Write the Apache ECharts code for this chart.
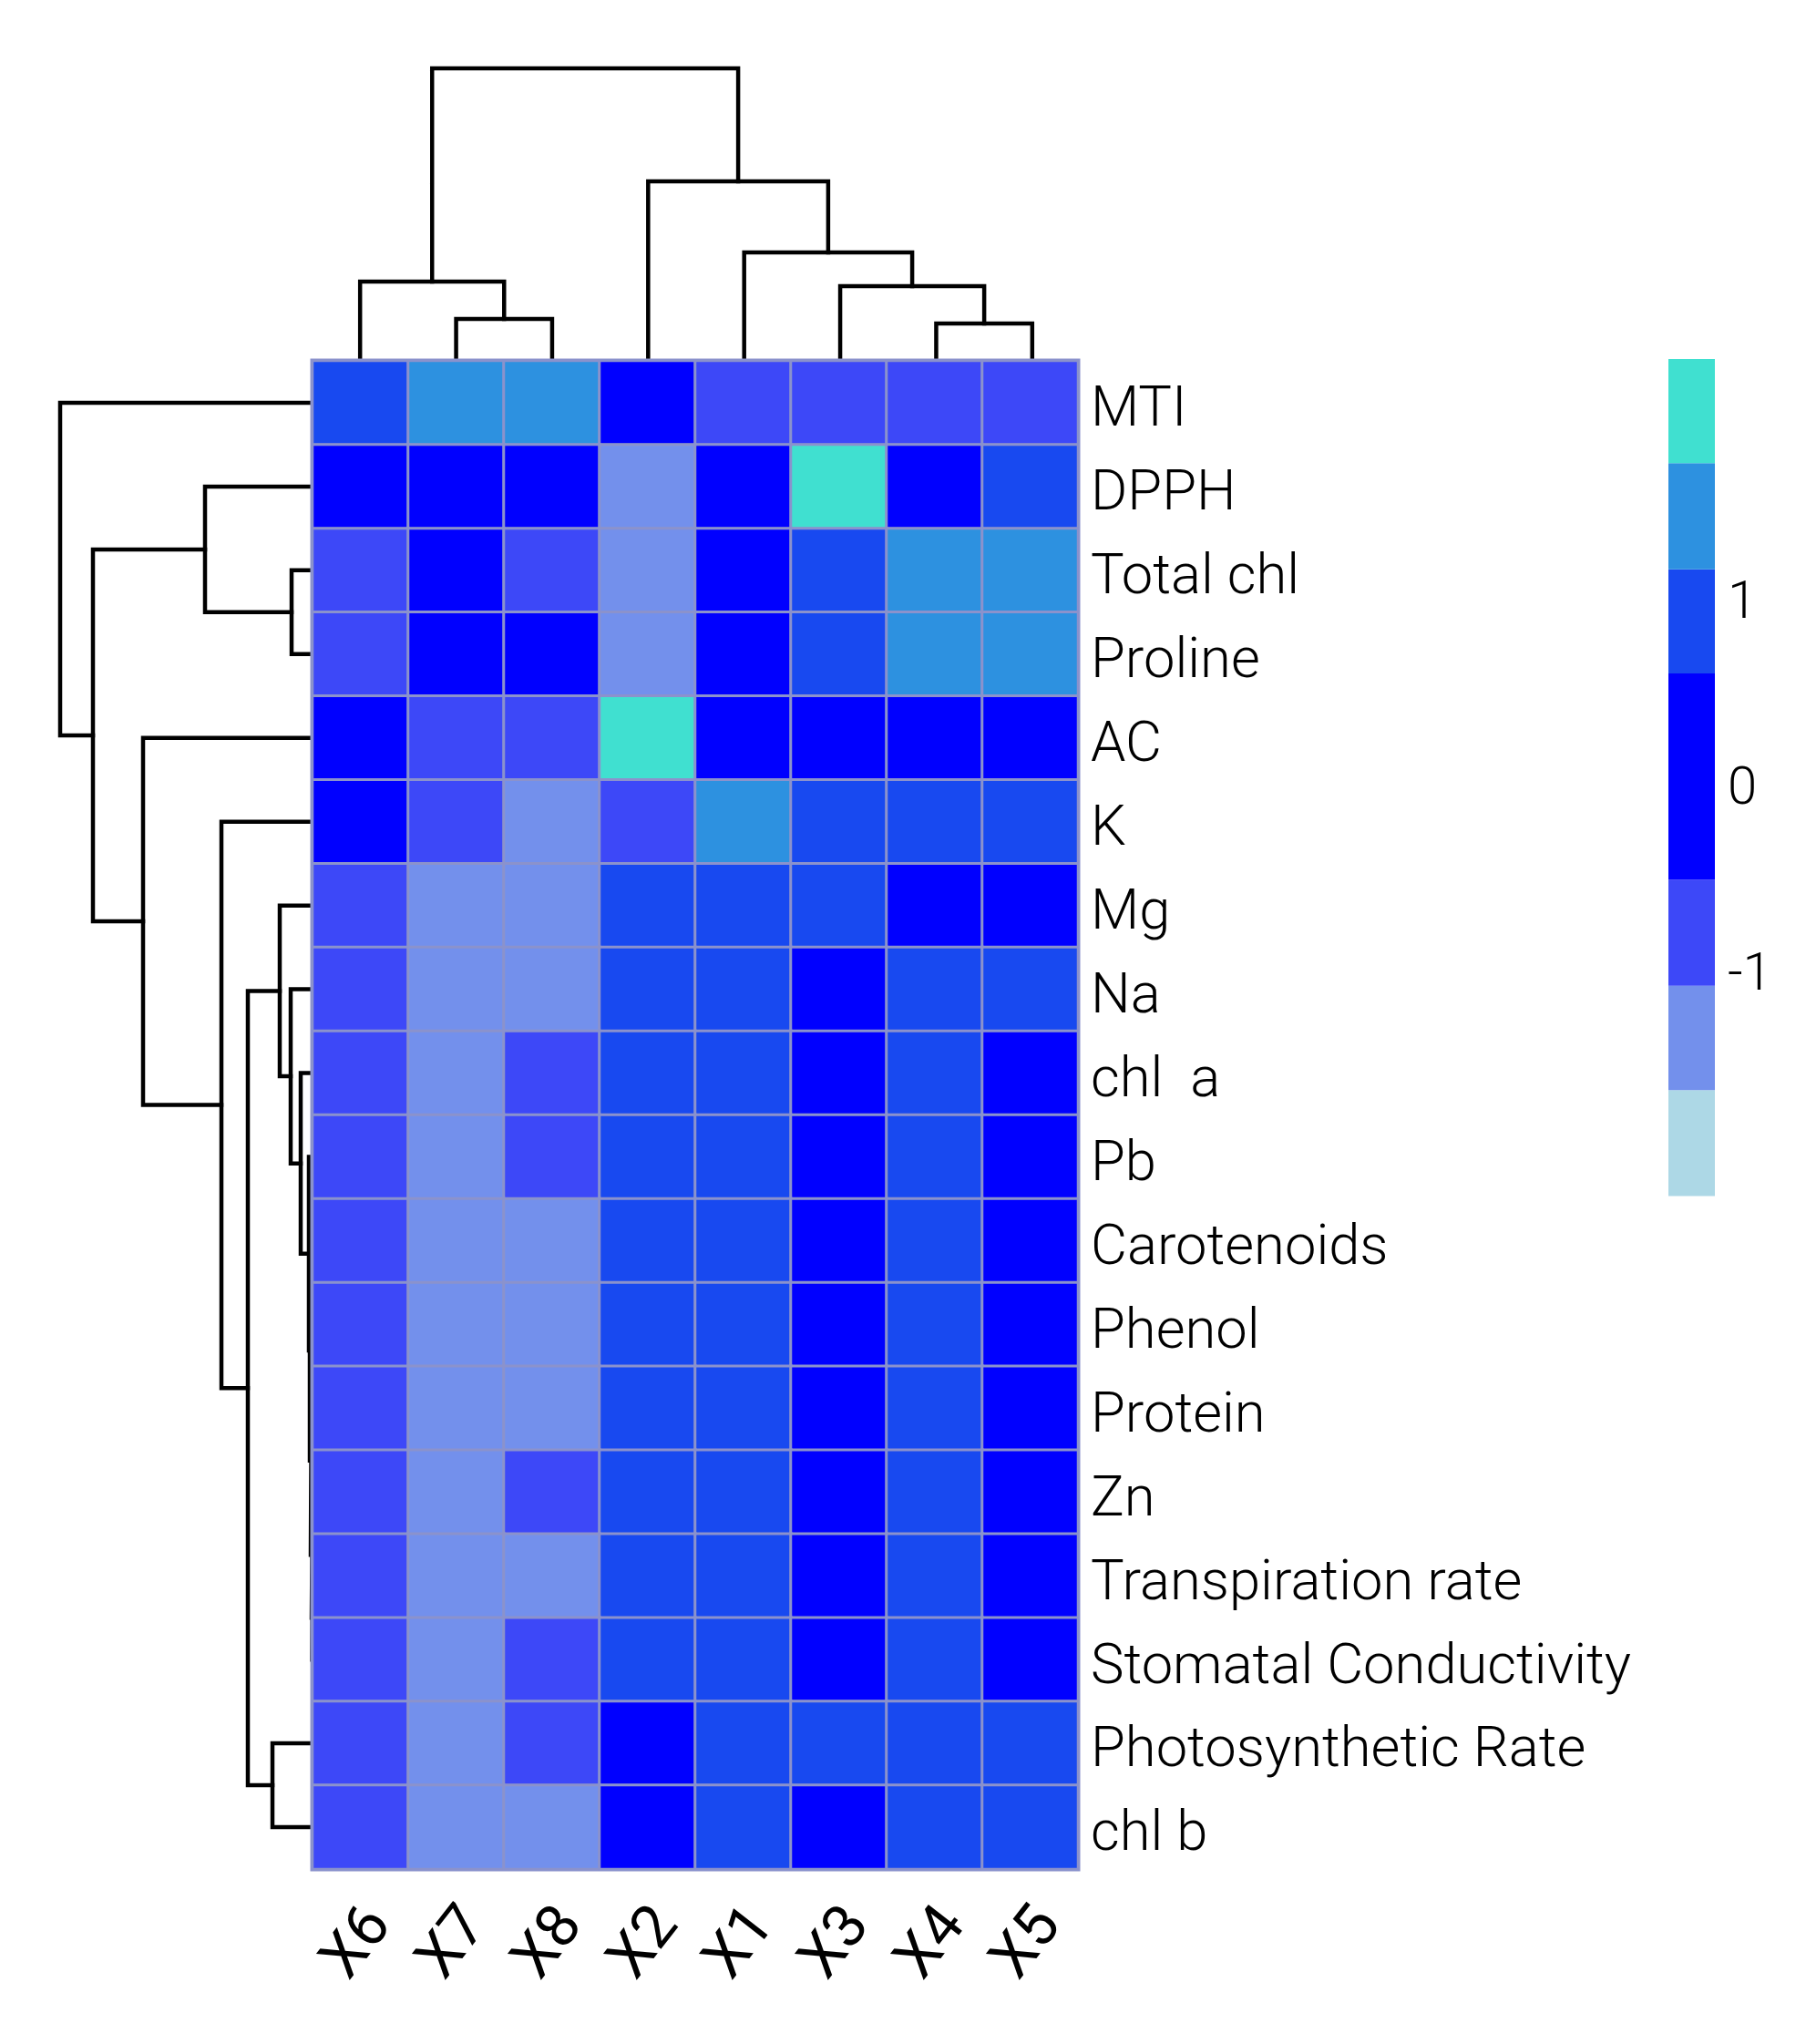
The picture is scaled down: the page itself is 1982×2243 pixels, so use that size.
<!DOCTYPE html>
<html><head><meta charset="utf-8">
<style>html,body{margin:0;padding:0;background:#fff}#c{width:1982px;height:2243px}</style>
<script src="https://cdn.jsdelivr.net/npm/echarts@6/dist/echarts.min.js"></script>
</head><body><div id="c"></div>
<script>
const columns = ['X6','X7','X8','X2','X1','X3','X4','X5'];
const rows = ['MTI','DPPH','Total chl','Proline','AC','K','Mg','Na','chl  a','Pb','Carotenoids','Phenol','Protein','Zn','Transpiration rate','Stomatal Conductivity','Photosynthetic Rate','chl b'];
const values = [
 [0.85,1.4,1.4,0,-0.8,-0.8,-0.8,-0.8],
 [0,0,0,-1.4,0,2,0,0.85],
 [-0.8,0,-0.8,-1.4,0,0.85,1.4,1.4],
 [-0.8,0,0,-1.4,0,0.85,1.4,1.4],
 [0,-0.8,-0.8,2,0,0,0,0],
 [0,-0.8,-1.4,-0.8,1.4,0.85,0.85,0.85],
 [-0.8,-1.4,-1.4,0.85,0.85,0.85,0,0],
 [-0.8,-1.4,-1.4,0.85,0.85,0,0.85,0.85],
 [-0.8,-1.4,-0.8,0.85,0.85,0,0.85,0],
 [-0.8,-1.4,-0.8,0.85,0.85,0,0.85,0],
 [-0.8,-1.4,-1.4,0.85,0.85,0,0.85,0],
 [-0.8,-1.4,-1.4,0.85,0.85,0,0.85,0],
 [-0.8,-1.4,-1.4,0.85,0.85,0,0.85,0],
 [-0.8,-1.4,-0.8,0.85,0.85,0,0.85,0],
 [-0.8,-1.4,-1.4,0.85,0.85,0,0.85,0],
 [-0.8,-1.4,-0.8,0.85,0.85,0,0.85,0],
 [-0.8,-1.4,-0.8,0,0.85,0.85,0.85,0.85],
 [-0.8,-1.4,-1.4,0,0.85,0,0.85,0.85]
];
// colour key: break values (low to high) and the colour of each bin
const breaks = [-2.23,-1.66,-1.1,-0.53,0.58,1.14,1.71,2.27];
const binColors = ['#ADD8E6','#7390EC','#3D48F8','#0000FF','#1849F0','#2D91E0','#40E0D0'];
const keyTicks = [-1,0,1];
// dendrograms: [childA, childB, height]; child >= 0 is a leaf index, child < 0 is merge number -child (1-based)
const colMerges = [[1,2,46],[0,-1,87],[6,7,41],[5,-3,82],[4,-4,119],[3,-5,197],[-2,-6,321]];
const rowMerges = [[14,15,0.5],[13,-1,1],[11,12,1],[-3,-2,2],[10,-4,3],[9,-5,4],[8,-6,13],[7,-7,24],[6,-8,36],[16,17,44],[-9,-10,71],[5,-11,100],[4,-12,186],[2,3,23],[1,-14,118],[-15,-13,241],[0,-16,277]];

function elbows(merges){
  const nodes=[];
  const get=c=>c>=0?{p:c,h:0}:nodes[-c-1];
  return merges.map(([a,b,h])=>{
    const A=get(a),B=get(b);
    nodes.push({p:(A.p+B.p)/2,h});
    return [[A.p,A.h],[A.p,h],[B.p,h],[B.p,B.h]];
  });
}
const BORDER='#8B92CC';
const line=(data,xi,yi)=>({type:'line',xAxisIndex:xi,yAxisIndex:yi,data,symbol:'none',silent:true,clip:false,z:1,
  animation:false,lineStyle:{color:'#000',width:4.5,cap:'square',join:'miter'}});
const hidden=o=>Object.assign({type:'value',show:false,scale:false,splitLine:{show:false}},o);
const heatData=[];
values.forEach((r,i)=>r.forEach((v,j)=>heatData.push([j,i,v])));
const pieces=binColors.map((c,i)=>({min:breaks[i],max:breaks[i+1],color:c}));
const font='Roboto,"Liberation Sans",sans-serif';

const option={
  backgroundColor:'#fff',
  animation:false,
  grid:[
    {left:343,top:396,width:840,height:1655,show:true,backgroundColor:BORDER,borderColor:BORDER,borderWidth:5,z:3},
    {left:342.5,top:74.6,width:843,height:321.4},
    {left:66,top:396,width:277,height:1655},
    {left:1831,top:394,width:51,height:918.5}
  ],
  xAxis:[
    {type:'category',gridIndex:0,data:columns,position:'bottom',axisLine:{show:false},axisTick:{show:false},splitLine:{show:false},
     axisLabel:{interval:0,rotate:52,align:'center',verticalAlign:'middle',margin:80,padding:[0,6,0,0],fontSize:66,fontWeight:400,fontFamily:font,color:'#000'}},
    hidden({gridIndex:1,min:-0.5,max:7.5}),
    hidden({gridIndex:2,min:0,max:277,inverse:true}),
    {type:'category',gridIndex:3,data:[''],show:false}
  ],
  yAxis:[
    {type:'category',gridIndex:0,data:rows,inverse:true,position:'right',axisLine:{show:false},axisTick:{show:false},splitLine:{show:false},
     axisLabel:{interval:0,margin:14,verticalAlign:'top',lineHeight:20,fontSize:61.5,fontWeight:300,fontFamily:font,color:'#000'}},
    hidden({gridIndex:1,min:0,max:321.4}),
    hidden({gridIndex:2,min:-0.5,max:17.5,inverse:true}),
    {type:'value',gridIndex:3,position:'right',min:breaks[0],max:breaks[7],axisLine:{show:false},axisTick:{show:false},splitLine:{show:false},
     axisLabel:{customValues:keyTicks,margin:14,verticalAlign:'top',lineHeight:20,fontSize:58,fontWeight:300,fontFamily:font,color:'#000',showMinLabel:true,showMaxLabel:true}}
  ],
  visualMap:{show:false,type:'piecewise',seriesIndex:0,dimension:2,pieces},
  series:[
    {type:'heatmap',xAxisIndex:0,yAxisIndex:0,data:heatData,z:4,silent:true,
     itemStyle:{borderColor:BORDER,borderWidth:3},emphasis:{disabled:true}},
    ...elbows(colMerges).map(d=>line(d,1,1)),
    ...elbows(rowMerges).map(d=>line(d.map(([p,h])=>[h,p]),2,2)),
    {type:'custom',xAxisIndex:3,yAxisIndex:3,silent:true,z:2,
     data:binColors.map((c,i)=>[0,breaks[i],breaks[i+1]]),
     encode:{x:0,y:[1,2]},
     renderItem:(p,api)=>{
       const a=api.coord([0,api.value(1)]),b=api.coord([0,api.value(2)]);
       const g=p.coordSys;
       return {type:'rect',shape:{x:g.x,y:b[1],width:g.width,height:a[1]-b[1]},style:{fill:binColors[p.dataIndex]}};
     }}
  ]
};
echarts.init(document.getElementById('c'),null,{renderer:'canvas'}).setOption(option);
</script></body></html>
